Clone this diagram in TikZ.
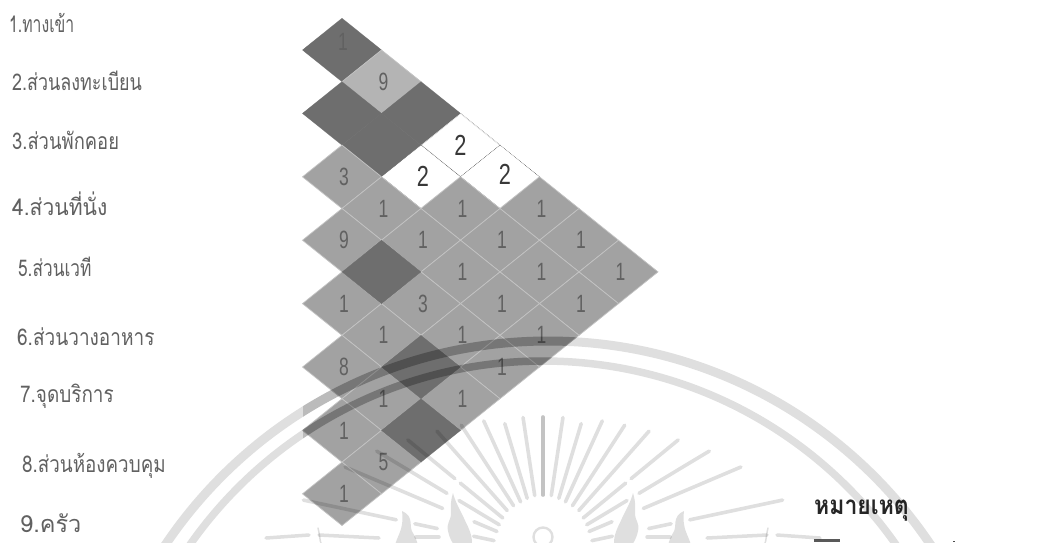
\documentclass[tikz,border=0pt]{standalone}
\usepackage{fontspec}
\usetikzlibrary{shapes.geometric}
\newfontfamily\thaifont[Script=Thai]{Loma}
\setmainfont{Liberation Sans}
\definecolor{celldark}{HTML}{6E6E6E}
\definecolor{cellmid}{HTML}{A2A2A2}
\definecolor{celllight}{HTML}{B4B4B4}
\tikzset{
  x=1pt,y=-1pt,
  cellbase/.style={diamond,inner sep=0pt,outer sep=0pt,minimum width=79pt,minimum height=63.4pt},
  celldk/.style={cellbase,fill=celldark,draw=celldark,line width=.3pt},
  cellmd/.style={cellbase,fill=cellmid,draw=white!35!cellmid,line width=.7pt},
  celllt/.style={cellbase,fill=celllight,draw=white!35!cellmid,line width=.7pt},
  cellwh/.style={cellbase,fill=white,draw=black!60,densely dotted,line width=.6pt},
  digit/.style={font=\fontsize{25}{25}\selectfont,xscale=.7,text=black!62},
  digitw/.style={font=\fontsize{29}{29}\selectfont,xscale=.75,text=black!78},
  roomlabel/.style={anchor=west,inner sep=0pt,text=black!62,font=\thaifont\fontsize{23}{24}\selectfont},
  wm/.style={draw=black,draw opacity=.125,line cap=round},
  wmfill/.style={fill=black,fill opacity=.125},
}
\begin{document}
\begin{tikzpicture}
\useasboundingbox (0,0) rectangle (1055,542);
\fill[white] (0,0) rectangle (1055,542);
% relationship chart
\foreach \i/\j/\kind in {
 1/2/celldk,1/3/celllt,2/3/celldk,1/4/celldk,2/4/celldk,3/4/cellmd,
 1/5/cellwh,2/5/cellwh,1/6/cellwh,
 3/5/cellmd,4/5/cellmd,2/6/cellmd,3/6/cellmd,5/6/cellmd,
 1/7/cellmd,2/7/cellmd,3/7/cellmd,4/7/cellmd,5/7/cellmd,6/7/cellmd,
 1/8/cellmd,2/8/cellmd,3/8/cellmd,4/8/cellmd,6/8/cellmd,7/8/cellmd,
 1/9/cellmd,2/9/cellmd,3/9/cellmd,4/9/cellmd,5/9/cellmd,7/9/cellmd,8/9/cellmd,
 4/6/celldk,5/8/celldk,6/9/celldk}{
  \pgfmathsetmacro{\cx}{342+39.5*(\j-\i-1)}
  \pgfmathsetmacro{\cy}{50+31.7*(\i+\j-3)}
  \node[\kind] (c\i\j) at (\cx,\cy) {};
}
% cell values
\foreach \i/\j/\v in {1/3/9,3/4/3,3/5/1,4/5/9,2/6/1,3/6/1,5/6/1,1/7/1,2/7/1,3/7/1,4/7/3,5/7/1,6/7/8,
 1/8/1,2/8/1,3/8/1,4/8/1,6/8/1,7/8/1,1/9/1,2/9/1,3/9/1,4/9/1,5/9/1,7/9/5,8/9/1}{
  \node[digit] (d\i\j) at ([xshift=2pt]c\i\j) {\v};
}
\node[digit,text=black!62] (d12) at ([xshift=1pt,yshift=8pt]c12) {1};
\node[digitw] (d15) at (c15) {2};
\node[digitw] (d25) at ([xshift=2pt]c25) {2};
\node[digitw] (d16) at ([xshift=5pt,yshift=2pt]c16) {2};
% room list
\node[roomlabel,xscale=.686] (r1) at (9,23) {1.ทางเข้า};
\node[roomlabel,xscale=.78] (r2) at (12,81) {2.ส่วนลงทะเบียน};
\node[roomlabel,xscale=.80] (r3) at (12,140) {3.ส่วนพักคอย};
\node[roomlabel,xscale=.915] (r4) at (12,204) {4.ส่วนที่นั่ง};
\node[roomlabel,xscale=.75] (r5) at (18,267) {5.ส่วนเวที};
\node[roomlabel,xscale=.827] (r6) at (17,337) {6.ส่วนวางอาหาร};
\node[roomlabel,xscale=.823] (r7) at (20,396) {7.จุดบริการ};
\node[roomlabel,xscale=.818] (r8) at (22,466) {8.ส่วนห้องควบคุม};
\node[roomlabel,xscale=1.0,font=\thaifont\fontsize{23.5}{24}\selectfont] (r9) at (20,523) {9.ครัว};
% note
\node[anchor=west,inner sep=0pt,xscale=.885,text=black!85,font=\thaifont\bfseries\fontsize{26}{26}\selectfont] (note) at (814,511) {หมายเหตุ};
\fill[black!65] (814,539) rectangle (840,542);
\fill[black!70] (953,541) rectangle (954.5,542);
% watermark
\draw[wm,line width=9pt] (548,802) circle[radius=461];
\draw[wm,line width=7.5pt] (543,792) circle[radius=431];
\begin{scope}
  \clip (342,18) -- (658,272) -- (342,526) -- (303,494) -- (303,50) -- cycle;
  \draw[black,opacity=.16,line width=9pt] (548,802) circle[radius=461];
  \draw[black,opacity=.16,line width=7.5pt] (543,792) circle[radius=431];
\end{scope}
\foreach \s in {1,-1}{
\begin{scope}[shift={(543,551)},xscale=\s]
  \draw[wm,line width=3.6pt] (0,-56) -- (0,-134);
  \foreach \a/\ra/\rb in {8.5/56/135,16.7/55/133,24.5/54/143,33/54/150,41.5/54/160,50.6/52/107,50.6/114/175,59/51/98,59/112/194,67/50/75,67/109/215,78/50/71,78/108/131,78/150/245,87/42/66}{
    \draw[wm,line width=3.6pt] ({\ra*sin(\a)},{-\ra*cos(\a)}) -- ({\rb*sin(\a)},{-\rb*cos(\a)});
  }
  \draw[wm,line width=3.5pt] (104,-14) -- (127,-14);
  \draw[wm,line width=3.5pt] (164,-13) -- (224,-16);
  \draw[wm,line width=3.5pt] (234,-16) -- (277,-13);
  \draw[wm,line width=1.5pt] (225,-23) .. controls (223,-15) and (223,-9) .. (222,-8);
  \fill[wmfill] (90,-58) .. controls (93,-48) and (92,-44) .. (92,-38) .. controls (92,-30) and (97,-28) .. (95,-20) .. controls (93,-10) and (88,-5) .. (85,0) -- (72,0) .. controls (68,-15) and (76,-25) .. (80,-35) .. controls (84,-43) and (88,-50) .. (90,-58) -- cycle;
  \fill[wmfill] (141,-40) .. controls (128,-34) and (135,-25) .. (130,-18) .. controls (125,-10) and (125,-5) .. (125,0) -- (148,0) .. controls (150,-12) and (138,-18) .. (141,-40) -- cycle;
\end{scope}
}
\draw[wm,line width=2.4pt] (543,537) circle[radius=9.5];
\end{tikzpicture}
\end{document}
